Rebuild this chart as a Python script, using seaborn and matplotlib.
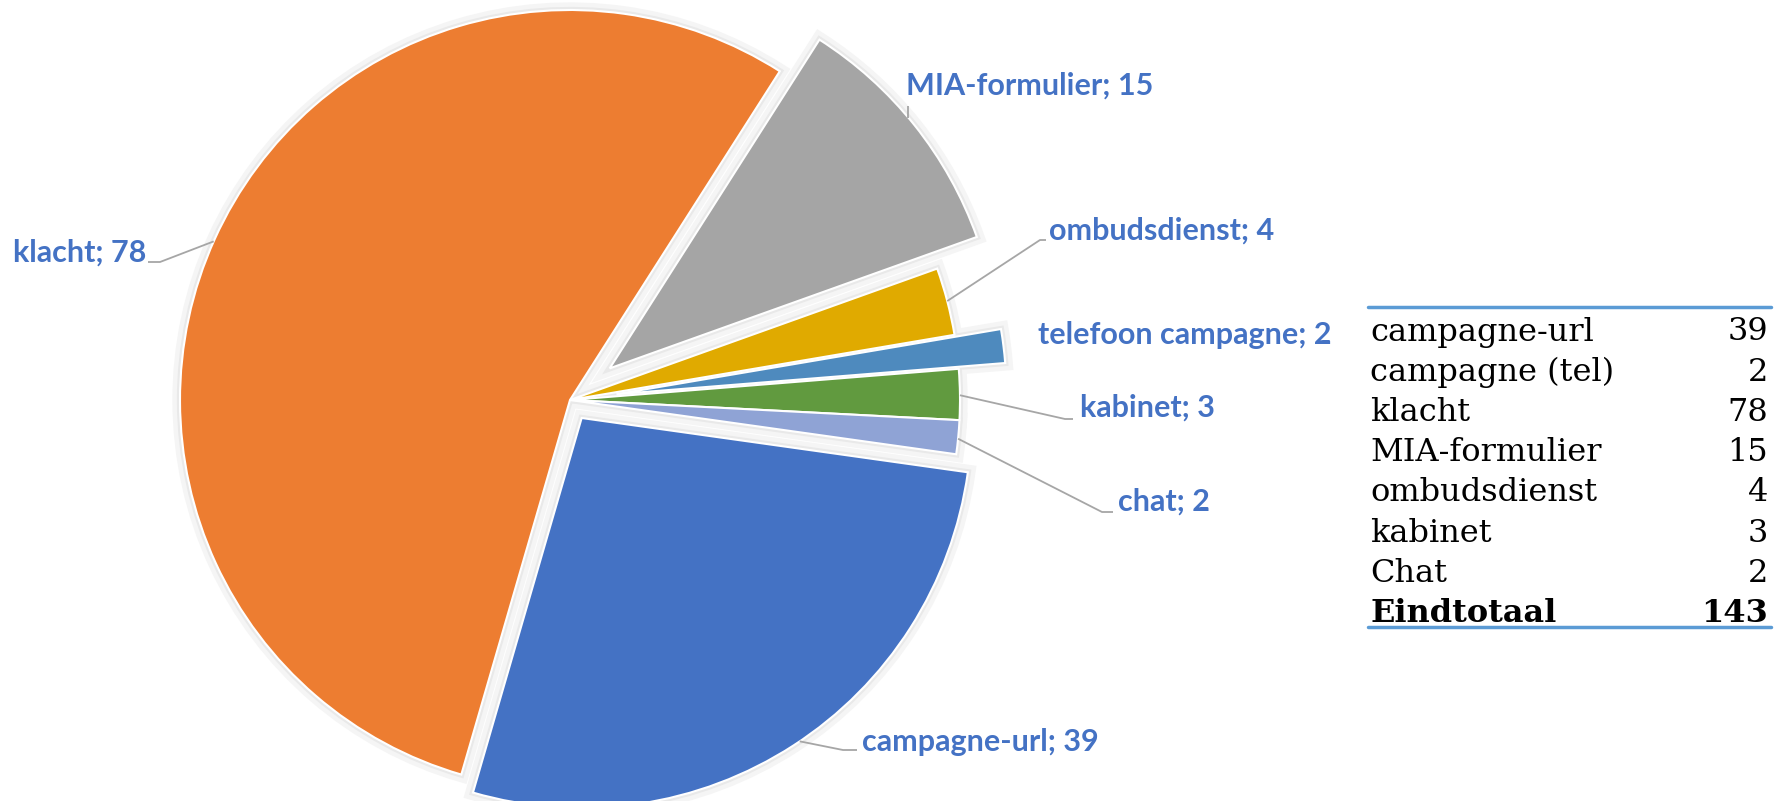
import numpy as np
import matplotlib
matplotlib.use('Agg')
import matplotlib.pyplot as plt
import seaborn as sns

# pie data (clockwise order as drawn)
pie_labels = ['campagne-url', 'klacht', 'MIA-formulier', 'ombudsdienst',
              'telefoon campagne', 'kabinet', 'chat']
pie_values = [39, 78, 15, 4, 2, 3, 2]

# table data
table_labels = ['campagne-url', 'campagne (tel)', 'klacht', 'MIA-formulier',
                'ombudsdienst', 'kabinet', 'Chat']
table_values = [39, 2, 78, 15, 4, 3, 2]
total_label = 'Eindtotaal'

pie_colors = ['#4472C4', '#ED7D31', '#A5A5A5', '#E0AA00', '#4E8ABE', '#619A3F', '#8FA3D5']
pie_explode = [0.055, 0, 0.13, 0, 0.12, 0, 0]   # fraction of radius

W, H = 1788, 801
CX, CY, R = 570, 400, 390   # pie centre/radius in image pixels

def Y(y):
    # image row -> data y (axes has y up)
    return H - y

sns.set_theme(style='white')
plt.rcParams['font.family'] = ['Lato', 'DejaVu Sans']

fig = plt.figure(figsize=(W / 100, H / 100), dpi=100)
ax = fig.add_axes([0, 0, 1, 1])

# matplotlib's explode is in data units, so scale by the radius
pie_kw = dict(startangle=-8, counterclock=False,
              explode=[e * R for e in pie_explode],
              center=(CX, Y(CY)), radius=R, frame=True)

# soft shadow underneath
ax.pie(pie_values, colors=['#f5f5f5'] * len(pie_values),
       wedgeprops=dict(edgecolor='#f5f5f5', linewidth=11), **pie_kw)
ax.pie(pie_values, colors=['#e9e9e9'] * len(pie_values),
       wedgeprops=dict(edgecolor='#e9e9e9', linewidth=4.5), **pie_kw)
wedges, _ = ax.pie(pie_values, colors=pie_colors,
                   wedgeprops=dict(edgecolor='white', linewidth=1.5), **pie_kw)
ax.set_xlim(0, W)
ax.set_ylim(0, H)
ax.set_axis_off()

# data labels: text anchor (image px), alignment, leader elbow, angle on wedge arc
label_layout = [
    dict(x=862, y=742, ha='left', elbow=[(843, 750), (857, 750)], ang=-56),
    dict(x=146, y=253, ha='right', elbow=[(160, 262), (148, 262)], ang=156),
    dict(x=906, y=86, ha='left', elbow=['v', (912, 106)], ang=40),
    dict(x=1049, y=231, ha='left', elbow=[(1040, 240), (1046, 240)], ang=14.7),
    dict(x=1038, y=335, ha='left', elbow=None, ang=None),
    dict(x=1080, y=408, ha='left', elbow=[(1065, 419), (1073, 419)], ang=0.7),
    dict(x=1118, y=502, ha='left', elbow=[(1102, 512), (1113, 512)], ang=-5.7),
]

label_color = '#4472C4'
line_color = '#A6A6A6'
for w, lab, val, lay in zip(wedges, pie_labels, pie_values, label_layout):
    ax.text(lay['x'], Y(lay['y']), f'{lab}; {val}', ha=lay['ha'], va='center',
            fontsize=22, fontweight='bold', color=label_color)
    if lay['elbow'] is None:
        continue
    cx, cy = w.center
    t = np.deg2rad(lay['ang'])
    x0, y0 = cx + w.r * np.cos(t), cy + w.r * np.sin(t)
    xs, ys = [x0], [y0]
    if lay['elbow'][0] == 'v':
        # vertical leader straight up from the arc
        xs.append(x0)
        ys.append(Y(lay['elbow'][1][1]))
    else:
        for px, py in lay['elbow']:
            xs.append(px)
            ys.append(Y(py))
    ax.plot(xs, ys, color=line_color, lw=1.3, solid_capstyle='butt')

# table on the right
tx0, tx1 = 1370, 1768
row_y0, row_dy = 332, 40.2
tbl_font = 'DejaVu Serif'
tbl_size = 23
for i, (lab, val) in enumerate(zip(table_labels, table_values)):
    yy = Y(row_y0 + i * row_dy)
    ax.text(tx0, yy, lab, ha='left', va='center', fontsize=tbl_size,
            family=tbl_font, color='black')
    ax.text(tx1, yy, str(val), ha='right', va='center', fontsize=tbl_size,
            family=tbl_font, color='black')
yy = Y(row_y0 + len(table_labels) * row_dy)
ax.text(tx0, yy, total_label, ha='left', va='center', fontsize=tbl_size,
        family=tbl_font, fontweight='bold', color='black')
ax.text(tx1, yy, str(sum(table_values)), ha='right', va='center', fontsize=tbl_size,
        family=tbl_font, fontweight='bold', color='black')
rule_color = '#5B9BD5'
ax.plot([1368, 1771], [Y(307), Y(307)], color=rule_color, lw=2.5)
ax.plot([1368, 1771], [Y(627), Y(627)], color=rule_color, lw=2.5)

fig.savefig('out.png', dpi=100, facecolor='white')
